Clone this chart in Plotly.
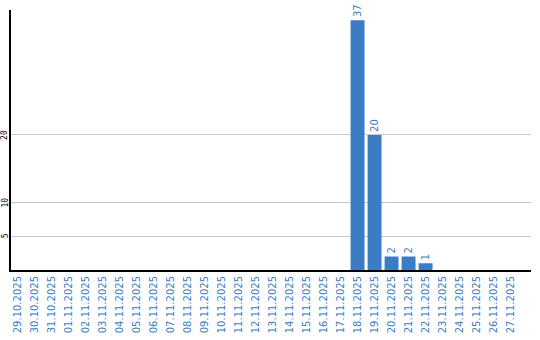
import plotly.graph_objects as go

dates = ["29.10.2025","30.10.2025","31.10.2025","01.11.2025","02.11.2025","03.11.2025",
         "04.11.2025","05.11.2025","06.11.2025","07.11.2025","08.11.2025","09.11.2025",
         "10.11.2025","11.11.2025","12.11.2025","13.11.2025","14.11.2025","15.11.2025",
         "16.11.2025","17.11.2025","18.11.2025","19.11.2025","20.11.2025","21.11.2025",
         "22.11.2025","23.11.2025","24.11.2025","25.11.2025","26.11.2025","27.11.2025"]
values = [0,0,0,0,0,0,0,0,0,0,0,0,0,0,0,0,0,0,0,0,37,20,2,2,1,0,0,0,0,0]
y_ticks = [5, 10, 20]

labels = [str(v) if v > 0 else "" for v in values]
blue = "#3b7dc4"

fig = go.Figure(go.Bar(
    x=list(range(len(dates))), y=values, text=labels,
    textposition="outside", textangle=-90, cliponaxis=False,
    textfont=dict(family="DejaVu Sans", size=10, color=blue),
    marker=dict(color=blue, line=dict(width=0)), width=0.82,
))
for t in y_ticks:
    fig.add_annotation(x=0, xref="paper", y=t, yref="y", text=str(t), showarrow=False,
                       textangle=-90, xanchor="center", yanchor="middle", xshift=-6,
                       font=dict(family="DejaVu Sans Mono", size=8, color="black"))
fig.update_layout(
    width=540, height=340, margin=dict(l=11, r=9, t=10, b=70),
    paper_bgcolor="white", plot_bgcolor="white", showlegend=False,
    xaxis=dict(tickvals=list(range(len(dates))), ticktext=dates, tickangle=-90,
               range=[-0.38, 30.2], showgrid=False, showline=True, linecolor="black",
               linewidth=2, ticks="", zeroline=False, automargin=False,
               tickfont=dict(family="DejaVu Sans", size=10, color=blue)),
    yaxis=dict(tickvals=y_ticks, range=[0, 38.5], showgrid=True, gridcolor="#c8c8c8",
               gridwidth=1, showline=True, linecolor="black", linewidth=2, ticks="",
               zeroline=False, showticklabels=False, automargin=False),
)
fig.write_html("out.html")
